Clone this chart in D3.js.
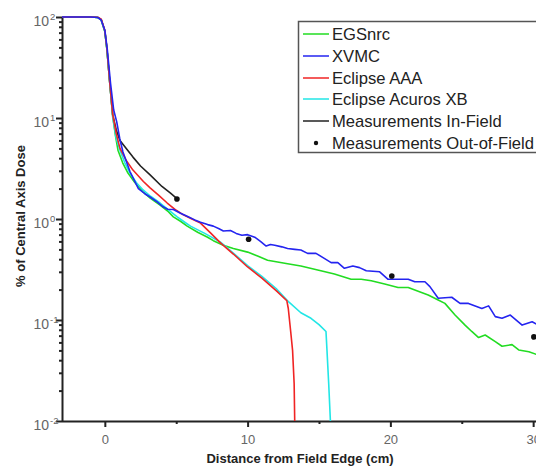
<!DOCTYPE html>
<html>
<head>
<meta charset="utf-8">
<script src="https://cdn.jsdelivr.net/npm/d3@7"></script>
<style>
  html, body { margin: 0; padding: 0; background: #fff; }
  svg { display: block; font-family: "Liberation Sans", Arial, sans-serif; }
</style>
</head>
<body>
<svg id="chart" width="536" height="466"></svg>
<script>
// ---------- data ----------
const seriesNames = ["EGSnrc", "XVMC", "Eclipse AAA", "Eclipse Acuros XB", "Measurements In-Field"];
const seriesColors = ["#22dc22", "#2424f0", "#f02424", "#22e6e6", "#222222"];

const egsnrc = [[-3,100],[-1,100],[-0.5,99],[-0.25,93],[0,72],[0.15,47],[0.35,22],[0.55,10.5],[0.75,6.6],[0.92,4.8],[1.25,3.6],[1.62,2.85],[2.1,2.3],[2.68,1.85],[3.2,1.6],[3.87,1.37],[4.4,1.2],[4.8,1.05],[5.3,0.95],[5.77,0.85],[6.5,0.74],[7.2,0.66],[7.6,0.61],[8.3,0.55],[9,0.51],[10,0.47],[10.7,0.43],[11.4,0.39],[12.1,0.375],[12.8,0.36],[13.73,0.343],[14.91,0.313],[16.08,0.285],[17.25,0.253],[17.96,0.253],[18.66,0.245],[19.6,0.227],[20.54,0.21],[21.25,0.21],[22.18,0.187],[22.65,0.177],[23.35,0.158],[23.82,0.146],[24.53,0.112],[25.23,0.089],[25.7,0.077],[26.18,0.067],[26.64,0.071],[27.35,0.061],[27.82,0.055],[28.52,0.057],[28.99,0.0505],[29.7,0.0485],[30.35,0.045]];

const xvmc = [[-3,100],[-1,100],[-0.5,99],[-0.25,93],[0,74],[0.17,48],[0.4,22],[0.62,12],[0.83,9.2],[1.05,6.2],[1.27,4.6],[1.76,2.95],[2.35,2.0],[2.8,1.78],[3.17,1.65],[3.6,1.5],[4.08,1.32],[4.4,1.25],[4.8,1.24],[5.3,1.14],[5.8,1.06],[6.3,0.98],[6.7,0.93],[7.2,0.88],[7.6,0.85],[8.0,0.8],[8.3,0.76],[8.8,0.77],[9.2,0.72],[9.6,0.69],[10,0.7],[10.5,0.66],[10.9,0.6],[11.3,0.54],[11.6,0.56],[11.9,0.55],[12.4,0.53],[12.8,0.51],[13.3,0.5],[13.73,0.493],[14.2,0.457],[14.79,0.457],[15.37,0.408],[15.85,0.37],[16.32,0.37],[16.78,0.325],[17.37,0.343],[17.84,0.33],[18.31,0.307],[19.25,0.3],[19.84,0.253],[20.54,0.253],[21.25,0.253],[21.71,0.239],[22.42,0.239],[22.77,0.214],[23.35,0.164],[24.3,0.168],[24.88,0.146],[25.47,0.146],[26.41,0.13],[26.88,0.138],[27.35,0.108],[27.82,0.104],[28.4,0.112],[29.23,0.089],[29.93,0.096],[30.35,0.089]];

const eclipseAAA = [[-3,100],[-1,100],[-0.5,99.5],[-0.25,95],[0,73],[0.15,48],[0.35,22],[0.55,10.8],[0.8,7],[1.06,5.0],[1.5,3.8],[1.97,3.05],[2.7,2.35],[3.17,2.03],[3.8,1.7],[4.37,1.44],[5.0,1.22],[5.5,1.1],[6.1,1.0],[6.7,0.91],[7.4,0.73],[8.1,0.58],[9,0.45],[10,0.335],[11,0.26],[12,0.195],[12.75,0.155],[12.85,0.13],[12.95,0.095],[13.03,0.074],[13.15,0.05],[13.26,0.0235],[13.3,0.01]];

const acurosXB = [[-3,100],[-1,100],[-0.5,99],[-0.25,93],[0,72],[0.15,47],[0.35,22],[0.55,10.2],[0.8,6.3],[1.06,4.8],[1.4,3.6],[1.76,2.85],[2.2,2.3],[2.68,1.94],[3.2,1.68],[3.87,1.44],[4.5,1.22],[5.07,1.05],[5.5,0.95],[6,0.85],[7,0.72],[8.1,0.59],[9,0.46],[10,0.345],[11,0.27],[12,0.205],[12.9,0.15],[13.73,0.118],[14.44,0.104],[15,0.09],[15.49,0.077],[15.56,0.05],[15.68,0.0235],[15.8,0.01]];

const measIn = [[-3,100],[-1,100],[-0.5,99],[-0.25,94],[0,73],[0.15,48],[0.35,22],[0.55,10.8],[0.8,7.6],[1.06,6.0],[1.5,5.0],[1.97,4.1],[2.5,3.35],[3.17,2.73],[4.0,2.1],[4.6,1.8],[5.07,1.58]];

const measOutX = [5.05, 10.07, 20.1, 30.05];
const measOutY = [1.58, 0.63, 0.273, 0.068];

const xTickValues = [0, 10, 20, 30];
const xTickLabels = ["0", "10", "20", "30"];
const xMinorTicks = [5, 15, 25];
const yTickValues = [0.01, 0.1, 1, 10, 100];
const yTickExps = ["-2", "-1", "0", "1", "2"];

const allSeries = [egsnrc, xvmc, eclipseAAA, acurosXB, measIn];

// ---------- layout ----------
const svg = d3.select("#chart");
const mLeft = 62, mRight = 536, mTop = 17, mBottom = 421;

const x = d3.scaleLinear().domain([-3, 30.2]).range([mLeft, mRight]);
const y = d3.scaleLog().domain([0.01, 100]).range([mBottom, mTop]);

svg.append("defs").append("clipPath").attr("id", "plotclip")
  .append("rect").attr("x", mLeft).attr("y", mTop - 2).attr("width", mRight - mLeft + 10).attr("height", mBottom - mTop + 2);

const yMinor = [];
for (let d = -2; d < 2; d++) {
  for (let k = 2; k <= 9; k++) yMinor.push(k * Math.pow(10, d));
}

const axisColor = "#222";
const labelColor = "#666";

const yMinorAxis = d3.axisLeft(y).tickValues(yMinor).tickSize(3).tickFormat("");
const gYm = svg.append("g").attr("transform", `translate(${mLeft},0)`).call(yMinorAxis);
gYm.select(".domain").remove();
gYm.selectAll("line").attr("stroke", axisColor).attr("stroke-width", 2);

const yAxis = d3.axisLeft(y).tickValues(yTickValues).tickSize(6).tickSizeOuter(0).tickFormat("");
const gY = svg.append("g").attr("transform", `translate(${mLeft},0)`).call(yAxis);
gY.select(".domain").attr("stroke", axisColor).attr("stroke-width", 2);
gY.selectAll("line").attr("stroke", axisColor).attr("stroke-width", 2);

yTickValues.forEach((v, i) => {
  svg.append("text")
    .attr("x", 49).attr("y", y(v) + 8.5)
    .attr("text-anchor", "end")
    .attr("fill", labelColor)
    .attr("font-size", 14)
    .text("10");
  svg.append("text")
    .attr("x", 50).attr("y", y(v) + 3)
    .attr("fill", labelColor)
    .attr("font-size", 9.5)
    .text(yTickExps[i]);
});

const xAxis = d3.axisBottom(x).tickValues(xTickValues).tickSize(6).tickSizeOuter(0).tickFormat((d, i) => xTickLabels[i]);
const gX = svg.append("g").attr("transform", `translate(0,${mBottom})`).call(xAxis);
gX.select(".domain").attr("stroke", axisColor).attr("stroke-width", 2).attr("d", `M${mLeft},0.5H${mRight + 5}`);
gX.selectAll("line").attr("stroke", axisColor).attr("stroke-width", 2);
gX.selectAll("text").attr("fill", labelColor).attr("font-size", 13).attr("dy", "1.05em");

const xMinorAxis = d3.axisBottom(x).tickValues(xMinorTicks).tickSize(3).tickFormat("");
const gXm = svg.append("g").attr("transform", `translate(0,${mBottom})`).call(xMinorAxis);
gXm.select(".domain").remove();
gXm.selectAll("line").attr("stroke", axisColor).attr("stroke-width", 2);

svg.append("text")
  .attr("x", 300).attr("y", 463)
  .attr("text-anchor", "middle")
  .attr("font-weight", "bold").attr("font-size", 13).attr("fill", "#222")
  .text("Distance from Field Edge (cm)");

svg.append("text")
  .attr("transform", `translate(25,216) rotate(-90)`)
  .attr("text-anchor", "middle")
  .attr("font-weight", "bold").attr("font-size", 13).attr("fill", "#222")
  .text("% of Central Axis Dose");

const line = d3.line().x(d => x(d[0])).y(d => y(d[1]));
const plot = svg.append("g").attr("clip-path", "url(#plotclip)");
const order = [4, 0, 3, 2, 1];
order.forEach(i => {
  plot.append("path")
    .datum(allSeries[i])
    .attr("fill", "none")
    .attr("stroke", seriesColors[i])
    .attr("stroke-width", 1.6)
    .attr("stroke-linejoin", "round")
    .attr("d", line);
});

plot.selectAll("circle.meas")
  .data(measOutX.map((v, i) => [v, measOutY[i]]))
  .enter().append("circle")
  .attr("class", "meas")
  .attr("cx", d => x(d[0])).attr("cy", d => y(d[1]))
  .attr("r", 2.8).attr("fill", "#111");

const lg = svg.append("g");
lg.append("rect").attr("x", 298.5).attr("y", 21.5).attr("width", 250).attr("height", 131)
  .attr("fill", "#fff").attr("stroke", "#555").attr("stroke-width", 1.5);
const rowY = [34, 56, 78, 99, 121, 143];
const legendLabels = seriesNames.concat(["Measurements Out-of-Field"]);
legendLabels.forEach((name, i) => {
  if (i < 5) {
    lg.append("line").attr("x1", 303).attr("x2", 329).attr("y1", rowY[i]).attr("y2", rowY[i])
      .attr("stroke", seriesColors[i]).attr("stroke-width", 1.5);
  } else {
    lg.append("circle").attr("cx", 316).attr("cy", rowY[i]).attr("r", 2.2).attr("fill", "#111");
  }
  lg.append("text").attr("x", 332).attr("y", rowY[i] + 5.8)
    .attr("font-size", 16.6).attr("fill", "#222").text(name);
});
</script>
</body>
</html>
